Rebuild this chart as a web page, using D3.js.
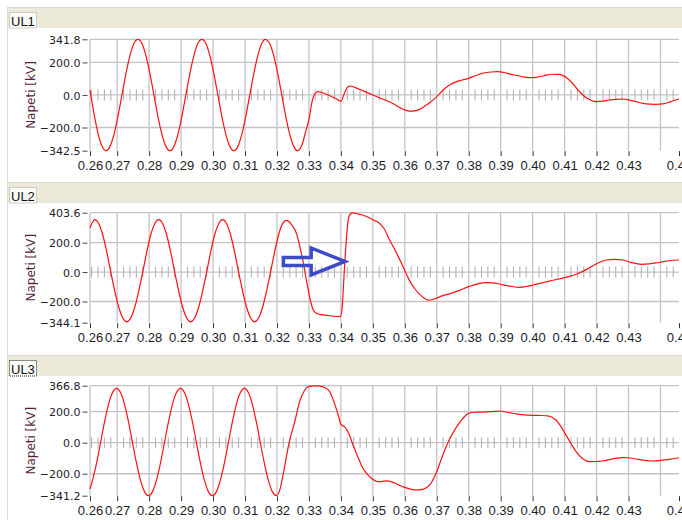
<!DOCTYPE html>
<html>
<head>
<meta charset="utf-8">
<script src="https://cdn.jsdelivr.net/npm/d3@7"></script>
<style>
  html, body { margin: 0; padding: 0; background: #fff; }
  svg { display: block; }
</style>
</head>
<body>
<svg id="chart" width="682" height="520"></svg>
<script>
// Time window shared by all three phase-voltage traces [s]
const timeDomain = [0.2615, 0.4458];
const timeTicks = [0.27, 0.28, 0.29, 0.30, 0.31, 0.32, 0.33, 0.34, 0.35, 0.36, 0.37, 0.38, 0.39, 0.40, 0.41, 0.42, 0.43];
const timeGrid = [0.27, 0.28, 0.29, 0.30, 0.31, 0.32, 0.33, 0.34, 0.35, 0.36, 0.37, 0.38, 0.39, 0.40, 0.41, 0.42, 0.43, 0.44];

const panelNames = ["UL1", "UL2", "UL3"];
const voltageRanges = [[-342.5, 341.8], [-344.1, 403.6], [-341.2, 366.8]];
const voltageTicks = [-200, 0, 200];
const axisTitle = "Napeti [kV]";

// Phase L1 voltage [time s, kV]
const ul1 = [
  [0.2615, 30], [0.26275, -115], [0.264, -236], [0.26525, -314], [0.2665, -342], [0.26775, -316], [0.269, -242], [0.27025, -131],
  [0.2715, 0], [0.27275, 131], [0.274, 242], [0.27525, 316], [0.2765, 341], [0.27775, 316], [0.279, 242], [0.28025, 131],
  [0.2815, 0], [0.28275, -131], [0.284, -242], [0.28525, -316], [0.2865, -342], [0.28775, -316], [0.289, -242], [0.29025, -131],
  [0.2915, 0], [0.29275, 131], [0.294, 242], [0.29525, 316], [0.2965, 341], [0.29775, 316], [0.299, 242], [0.30025, 131],
  [0.3015, 0], [0.30275, -131], [0.304, -242], [0.30525, -316], [0.3065, -342], [0.30775, -316], [0.309, -242], [0.31025, -131],
  [0.3115, 0], [0.31275, 131], [0.314, 242], [0.31525, 316], [0.3163, 341], [0.31775, 314], [0.319, 240], [0.32025, 131],
  [0.3215, 0], [0.32275, -131], [0.324, -242], [0.32525, -316], [0.3264, -342], [0.32775, -310], [0.329, -225], [0.3300, -150],
  [0.3310, -40], [0.3318, 5], [0.3328, 20], [0.3340, 15], [0.3365, -5], [0.3385, -22], [0.3400, -38], [0.3413, 20],
  [0.3422, 50], [0.3430, 55], [0.3445, 45], [0.3470, 25], [0.3500, 0], [0.3530, -25], [0.3560, -50], [0.3585, -78],
  [0.3600, -92], [0.3615, -100], [0.3630, -98], [0.3645, -90], [0.3660, -72], [0.3680, -45], [0.3700, -10], [0.3720, 30],
  [0.3740, 61], [0.3760, 80], [0.3780, 92], [0.3800, 102], [0.3820, 118], [0.3844, 133], [0.3870, 141], [0.3891, 143],
  [0.3910, 138], [0.3930, 128], [0.3950, 120], [0.3975, 110], [0.3995, 106], [0.4015, 110], [0.4035, 118], [0.4060, 127],
  [0.4080, 126], [0.4094, 120], [0.4110, 100], [0.4125, 71], [0.4140, 35], [0.4157, 0], [0.4175, -25], [0.4198, -41],
  [0.4220, -38], [0.4240, -31], [0.4260, -27], [0.4282, -25], [0.4300, -30], [0.4323, -41], [0.4345, -52], [0.4365, -57],
  [0.4385, -58], [0.4407, -55], [0.4425, -46], [0.4438, -37], [0.4458, -25]
];

// Phase L2 voltage [time s, kV]
const ul2 = [
  [0.2615, 300], [0.2630, 356], [0.26425, 329], [0.2655, 252], [0.26675, 136], [0.2680, 0], [0.26925, -129], [0.2705, -239],
  [0.27175, -312], [0.2730, -338], [0.27425, -312], [0.2755, -239], [0.27675, -129], [0.2780, 0], [0.27925, 136], [0.2805, 252],
  [0.28175, 329], [0.2830, 356], [0.28425, 329], [0.2855, 252], [0.28675, 136], [0.2880, 0], [0.28925, -129], [0.2905, -239],
  [0.29175, -312], [0.2930, -338], [0.29425, -312], [0.2955, -239], [0.29675, -129], [0.2980, 0], [0.29925, 136], [0.3005, 252],
  [0.30175, 329], [0.3030, 356], [0.30425, 329], [0.3055, 252], [0.30675, 136], [0.3080, 0], [0.30925, -129], [0.3105, -239],
  [0.31175, -312], [0.3130, -338], [0.31425, -312], [0.3155, -239], [0.31675, -129], [0.3180, 0], [0.31925, 136], [0.3205, 252],
  [0.32175, 329], [0.3230, 352], [0.3245, 325], [0.3261, 263], [0.3272, 170], [0.3282, 70], [0.3290, -30], [0.3299, -133],
  [0.3306, -205], [0.3313, -255], [0.3322, -278], [0.3334, -288], [0.3365, -297], [0.3385, -302], [0.3398, -303], [0.3404, -240],
  [0.3408, -100], [0.3412, 60], [0.3417, 220], [0.3422, 340], [0.3428, 390], [0.3436, 403], [0.3445, 400], [0.3460, 392],
  [0.3480, 378], [0.3500, 356], [0.3520, 334], [0.3535, 296], [0.3553, 215], [0.3570, 148], [0.3584, 85], [0.3600, 10],
  [0.3615, -58], [0.3630, -110], [0.3647, -152], [0.3660, -176], [0.3673, -190], [0.3685, -188], [0.3698, -178], [0.3719, -160],
  [0.3740, -148], [0.3771, -124], [0.3800, -99], [0.3828, -80], [0.3855, -72], [0.3875, -74], [0.3896, -81], [0.3930, -96],
  [0.3959, -104], [0.3980, -98], [0.4001, -88], [0.4030, -73], [0.4053, -61], [0.4080, -48], [0.4100, -38], [0.4136, -15],
  [0.4160, 8], [0.4178, 30], [0.4205, 62], [0.4230, 82], [0.4255, 86], [0.4282, 82], [0.4310, 64], [0.4340, 53],
  [0.4365, 56], [0.4386, 62], [0.4410, 71], [0.4428, 77], [0.4458, 82]
];

// Phase L3 voltage [time s, kV]
const ul3 = [
  [0.2615, -298], [0.2623, -241], [0.26355, -131], [0.2648, 0], [0.26605, 134], [0.2673, 247], [0.26855, 323], [0.2698, 350],
  [0.27105, 323], [0.2723, 247], [0.27355, 134], [0.2748, 0], [0.27605, -131], [0.2773, -241], [0.27855, -315], [0.2798, -341],
  [0.28105, -315], [0.2823, -241], [0.28355, -131], [0.2848, 0], [0.28605, 134], [0.2873, 247], [0.28855, 323], [0.2898, 350],
  [0.29105, 323], [0.2923, 247], [0.29355, 134], [0.2948, 0], [0.29605, -131], [0.2973, -241], [0.29855, -315], [0.2998, -341],
  [0.30105, -315], [0.3023, -241], [0.30355, -131], [0.3048, 0], [0.30605, 134], [0.3073, 247], [0.30855, 323], [0.3098, 350],
  [0.31105, 323], [0.3123, 247], [0.31355, 134], [0.3148, 0], [0.31605, -131], [0.3173, -241], [0.31855, -315], [0.3198, -340],
  [0.3208, -310], [0.3219, -208], [0.3238, 0], [0.3257, 146], [0.3271, 264], [0.3287, 339], [0.3300, 362], [0.3315, 366],
  [0.3330, 366], [0.3349, 355], [0.3365, 328], [0.3380, 253], [0.3392, 175], [0.3400, 118], [0.3411, 103], [0.3422, 71],
  [0.3438, -15], [0.3455, -100], [0.3469, -165], [0.3490, -219], [0.3516, -251], [0.3542, -246], [0.3563, -255], [0.3594, -283],
  [0.3620, -300], [0.3636, -304], [0.3657, -300], [0.3678, -272], [0.3698, -197], [0.3719, -79], [0.3740, 22], [0.3760, 95],
  [0.3780, 152], [0.3800, 189], [0.3820, 196], [0.3846, 197], [0.3870, 200], [0.3896, 204], [0.3920, 196], [0.3948, 185],
  [0.4000, 176], [0.4030, 175], [0.4048, 172], [0.4073, 146], [0.4090, 100], [0.4104, 50], [0.4120, -5], [0.4136, -58],
  [0.4155, -100], [0.4178, -122], [0.4200, -121], [0.4219, -118], [0.4250, -104], [0.4282, -96], [0.4300, -97], [0.4323, -105],
  [0.4350, -114], [0.4375, -118], [0.4400, -114], [0.4428, -107], [0.4458, -97]
];

const seriesList = [ul1, ul2, ul3];

// Outlined arrow annotation on the second trace: tail and tip in (time, kV)
const arrowTail = [0.3220, 72];
const arrowTip = [0.3413, 72];
const arrowHeadStart = 0.3307;

// ---- layout ----
const W = 682, H = 520;
const plotLeft = 90, plotRight = 679;
const panels = [
  { header: 7,   top: 39.3,  bottom: 150.7, focus: false },
  { header: 182, top: 212.7, bottom: 322.7, focus: false },
  { header: 355, top: 385.7, bottom: 495.7, focus: true }
];

const svg = d3.select("#chart");
const x = d3.scaleLinear().domain(timeDomain).range([plotLeft, plotRight]);
const fmtT = d3.format(".2f");
const fmtV = d3.format(".1f");

// left frame line
svg.append("line")
  .attr("x1", 7.5).attr("x2", 7.5).attr("y1", 7).attr("y2", H)
  .attr("stroke", "#dcdcdc").attr("stroke-width", 1);

// minor tick positions along the zero line
const minorTicks = d3.range(0.262, 0.4458, 0.002).filter(t => Math.abs(t * 100 - Math.round(t * 100)) > 0.05);

panels.forEach((p, i) => {
  const g = svg.append("g");
  const [vMin, vMax] = voltageRanges[i];
  const y = d3.scaleLinear().domain([vMin, vMax]).range([p.bottom, p.top]);

  // header strip with tab
  g.append("rect").attr("x", 8).attr("y", p.header).attr("width", W - 8).attr("height", 21)
    .attr("fill", "#ece9d8");
  g.append("line").attr("x1", 8).attr("x2", W).attr("y1", p.header + 0.5).attr("y2", p.header + 0.5)
    .attr("stroke", "#dedad0");
  g.append("rect").attr("x", 9.5).attr("y", p.header + 5.5).attr("width", 27).attr("height", 15.5)
    .attr("fill", "#fbfbf9")
    .attr("stroke", p.focus ? "#222" : "#cfcbc0")
    .attr("stroke-width", 1)
    .attr("stroke-dasharray", p.focus ? "1,1" : null);
  g.append("text").attr("x", 11).attr("y", p.header + 18.5)
    .attr("font-family", "Liberation Sans, Arial, sans-serif").attr("font-size", 13)
    .attr("fill", "#111").text(panelNames[i]);

  // grid
  const grid = g.append("g").attr("stroke", "#c4c4c4").attr("stroke-width", 1.3);
  grid.selectAll("line.v").data(timeGrid).join("line")
    .attr("x1", d => x(d)).attr("x2", d => x(d)).attr("y1", p.top).attr("y2", p.bottom);
  grid.append("line").attr("x1", plotLeft).attr("x2", plotLeft).attr("y1", p.top).attr("y2", p.bottom);
  grid.selectAll("line.h").data([vMax, ...voltageTicks]).join("line")
    .attr("x1", plotLeft).attr("x2", plotRight).attr("y1", d => y(d)).attr("y2", d => y(d));

  // minor ticks on the zero line
  g.append("g").attr("stroke", "#b4b4b4").attr("stroke-width", 1.1)
    .selectAll("line").data(minorTicks).join("line")
    .attr("x1", d => x(d)).attr("x2", d => x(d))
    .attr("y1", y(0) - 5.5).attr("y2", y(0) + 5.5);

  // y axis
  const yAxis = d3.axisLeft(y).tickValues([vMin, ...voltageTicks, vMax]).tickFormat(fmtV)
    .tickSize(5).tickPadding(2).tickSizeOuter(0);
  const ya = g.append("g").attr("transform", `translate(${plotLeft - 2.5},0)`).call(yAxis);
  ya.select(".domain").remove();
  ya.selectAll("line").attr("stroke", "#444");
  ya.selectAll("text").attr("font-family", "DejaVu Sans, Verdana, sans-serif").attr("font-size", 11)
    .attr("fill", "#1c1c2c").attr("dy", "0.38em");

  // x axis
  const xAxis = d3.axisBottom(x).tickValues([timeDomain[0], ...timeTicks, timeDomain[1]]).tickFormat(fmtT)
    .tickSize(5).tickPadding(4).tickSizeOuter(0);
  const xa = g.append("g").attr("transform", `translate(0,${p.bottom + 0.5})`).call(xAxis);
  xa.select(".domain").remove();
  xa.selectAll("line").attr("stroke", "#333");
  xa.selectAll("text").attr("font-family", "Liberation Sans, Arial, sans-serif").attr("font-size", 13)
    .attr("fill", "#1c1c2c").attr("dy", "0.72em");

  // y axis title
  g.append("text")
    .attr("transform", `translate(34.5,${(p.top + p.bottom) / 2}) rotate(-90)`)
    .attr("text-anchor", "middle")
    .attr("font-family", "DejaVu Sans, Verdana, sans-serif").attr("font-size", 12)
    .attr("fill", "#5a1f3e").text(axisTitle);

  // trace
  const clipId = "clip" + i;
  svg.append("clipPath").attr("id", clipId).append("rect")
    .attr("x", plotLeft - 1).attr("y", p.top - 1.5).attr("width", plotRight - plotLeft + 2).attr("height", p.bottom - p.top + 3);
  const line = d3.line().x(d => x(d[0])).y(d => y(d[1])).curve(d3.curveMonotoneX);
  g.append("path").datum(seriesList[i])
    .attr("clip-path", `url(#${clipId})`)
    .attr("fill", "none").attr("stroke", "#ff1010").attr("stroke-width", 1.2)
    .attr("stroke-linejoin", "round")
    .attr("d", line);

  // arrow annotation on the second trace
  if (i === 1) {
    const yc = y(arrowTail[1]);
    const x0 = x(arrowTail[0]), xh = x(arrowHeadStart), xt = x(arrowTip[0]);
    const bw = 4, hw = 13.5;
    const pts = [[x0, yc - bw], [xh, yc - bw], [xh, yc - hw], [xt, yc], [xh, yc + hw], [xh, yc + bw], [x0, yc + bw]];
    g.append("path")
      .attr("d", "M" + pts.map(q => q.join(",")).join("L") + "Z")
      .attr("fill", "none").attr("stroke", "#3d4cc6").attr("stroke-width", 3.5)
      .attr("stroke-linejoin", "miter");
  }
});
</script>
</body>
</html>
